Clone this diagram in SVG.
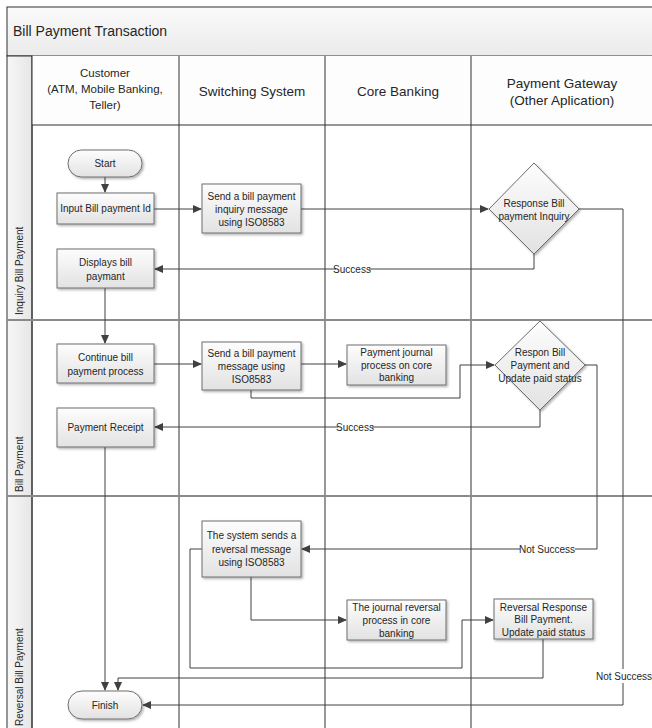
<svg xmlns="http://www.w3.org/2000/svg" width="652" height="728" viewBox="0 0 652 728">
<style>
text{font-family:"Liberation Sans",Arial,sans-serif;fill:#262626}
.box{fill:url(#g);stroke:#6e6e6e;stroke-width:1;filter:url(#sh)}
.t{font-size:10px;text-anchor:middle}
.hd{font-size:13.5px;text-anchor:middle}
.hs{font-size:11.5px;text-anchor:middle}
.ln{font-size:10px}
.col{stroke:#303030;stroke-width:1;fill:none}
.lane{stroke:#8a8a8a;stroke-width:2;fill:none}
.c{stroke:#404040;stroke-width:1;fill:none}
.ca{stroke:#404040;stroke-width:1;fill:none;marker-end:url(#ar)}
.lbl{fill:#fff}
</style>
<defs>
<linearGradient id="g" x1="0" y1="0" x2="0" y2="1"><stop offset="0" stop-color="#fdfdfd"/><stop offset="1" stop-color="#e2e2e2"/></linearGradient>
<linearGradient id="hg" x1="0" y1="0" x2="0" y2="1"><stop offset="0" stop-color="#fafafa"/><stop offset="1" stop-color="#ebebeb"/></linearGradient>
<linearGradient id="sg" x1="0" y1="0" x2="1" y2="0"><stop offset="0" stop-color="#f7f7f7"/><stop offset="1" stop-color="#e6e6e6"/></linearGradient>
<filter id="sh" x="-10%" y="-10%" width="130%" height="140%"><feDropShadow dx="1.5" dy="1.5" stdDeviation="0.8" flood-color="#000" flood-opacity="0.3"/></filter>
<marker id="ar" markerWidth="9" markerHeight="8" refX="8" refY="4" orient="auto" markerUnits="userSpaceOnUse"><path d="M0,0 L9,4 L0,8 Z" fill="#404040"/></marker>
</defs>

<g id="frame">
<rect x="7" y="7" width="660" height="49" fill="url(#hg)" stroke="#303030" stroke-width="1"/>
<text x="13" y="36" style="font-size:14px">Bill Payment Transaction</text>
<rect x="7" y="56" width="25" height="680" fill="url(#sg)" stroke="#303030" stroke-width="1"/>
<rect x="32" y="56" width="630" height="69" fill="#fdfdfd" stroke="none"/>
<line class="col" x1="32" y1="56" x2="32" y2="728"/>
<line class="col" x1="179" y1="56" x2="179" y2="728"/>
<line class="col" x1="325" y1="56" x2="325" y2="728"/>
<line class="col" x1="471" y1="56" x2="471" y2="728"/>
<line class="col" x1="32" y1="125" x2="652" y2="125"/>
<line class="lane" x1="7" y1="320" x2="652" y2="320"/>
<line class="lane" x1="7" y1="496" x2="652" y2="496"/>
<text class="hs" x="105" y="77">Customer</text>
<text class="hs" x="105" y="93">(ATM, Mobile Banking,</text>
<text class="hs" x="105" y="109">Teller)</text>
<text class="hd" x="252" y="96">Switching System</text>
<text class="hd" x="398" y="96">Core Banking</text>
<text class="hd" x="562" y="88">Payment Gateway</text>
<text class="hd" x="562" y="105">(Other Aplication)</text>
<text class="ln" transform="translate(23,315) rotate(-90)">Inquiry Bill Payment</text>
<text class="ln" transform="translate(23,492) rotate(-90)">Bill Payment</text>
<text class="ln" transform="translate(23,726) rotate(-90)">Reversal Bill Payment</text>
</g>

<g id="connectors">
<path class="ca" d="M105,177 V192"/>
<path class="ca" d="M154,209 H201"/>
<path class="ca" d="M301,209 H488"/>
<path class="ca" d="M534,254 V269 H155"/>
<path class="ca" d="M579,209 H623 V705 H143"/>
<path class="ca" d="M105,288 V343"/>
<path class="ca" d="M154,364 H201"/>
<path class="ca" d="M301,364 H346"/>
<path class="ca" d="M251,390 V398 H460 V365 H494"/>
<path class="ca" d="M540,410 V427 H155"/>
<path class="ca" d="M585,365 H597 V549 H302"/>
<path class="ca" d="M105,447 V690"/>
<path class="ca" d="M251,577 V620 H346"/>
<path class="ca" d="M202,549 H190 V668 H462 V620 H493"/>
<path class="ca" d="M543,639 V678 H118 V690"/>
<rect class="lbl" x="336" y="263" width="33" height="12"/>
<text class="t" x="352" y="273">Success</text>
<rect class="lbl" x="338" y="421" width="34" height="12"/>
<text class="t" x="355" y="431">Success</text>
<rect class="lbl" x="520" y="543" width="55" height="12"/>
<text class="t" x="547" y="553">Not Success</text>
<rect class="lbl" x="598" y="669" width="54" height="14"/>
<text class="t" x="624" y="680">Not Success</text>
</g>

<g id="start">
<rect class="box" x="68" y="150" width="74" height="27" rx="13.5"/>
<text class="t" x="105" y="167">Start</text>
</g>
<g id="input-id">
<rect class="box" x="57" y="193" width="97" height="31"/>
<text class="t" x="105.5" y="212">Input Bill payment Id</text>
</g>
<g id="send-inquiry">
<rect class="box" x="202" y="184" width="99" height="49"/>
<text class="t" x="251.5" y="199.5">Send a bill payment</text>
<text class="t" x="251.5" y="212.5">inquiry message</text>
<text class="t" x="251.5" y="225.5">using ISO8583</text>
</g>
<g id="response-inquiry">
<path class="box" d="M534,163 L579,209 L534,254 L489,209 Z"/>
<text class="t" x="534" y="206.5">Response Bill</text>
<text class="t" x="534" y="219.5">payment  Inquiry</text>
</g>
<g id="displays">
<rect class="box" x="57" y="249" width="97" height="39"/>
<text class="t" x="105.5" y="265.5">Displays bill</text>
<text class="t" x="105.5" y="279.5">paymant</text>
</g>
<g id="continue">
<rect class="box" x="57" y="344" width="97" height="39"/>
<text class="t" x="105.5" y="360.5">Continue bill</text>
<text class="t" x="105.5" y="374.5">payment process</text>
</g>
<g id="send-payment">
<rect class="box" x="202" y="342" width="99" height="48"/>
<text class="t" x="251.5" y="356.5">Send a bill payment</text>
<text class="t" x="251.5" y="369.5">message using</text>
<text class="t" x="251.5" y="383">ISO8583</text>
</g>
<g id="payment-journal">
<rect class="box" x="347" y="345" width="99" height="40"/>
<text class="t" x="396.5" y="355.5">Payment journal</text>
<text class="t" x="396.5" y="368.5">process on core</text>
<text class="t" x="396.5" y="381">banking</text>
</g>
<g id="respon-payment">
<path class="box" d="M540,321 L585,365 L540,410 L495,365 Z"/>
<text class="t" x="540" y="355.5">Respon Bill</text>
<text class="t" x="540" y="368.5">Payment and</text>
<text class="t" x="540" y="381.5">Update paid status</text>
</g>
<g id="receipt">
<rect class="box" x="57" y="408" width="97" height="39"/>
<text class="t" x="105.5" y="430.5">Payment Receipt</text>
</g>
<g id="reversal-send">
<rect class="box" x="202" y="521" width="99" height="56"/>
<text class="t" x="251.5" y="538.5">The system sends a</text>
<text class="t" x="251.5" y="552.5">reversal message</text>
<text class="t" x="251.5" y="565.5">using ISO8583</text>
</g>
<g id="journal-reversal">
<rect class="box" x="347" y="600" width="99" height="40"/>
<text class="t" x="396.5" y="610.5">The journal reversal</text>
<text class="t" x="396.5" y="623.5">process in core</text>
<text class="t" x="396.5" y="636.5">banking</text>
</g>
<g id="reversal-response">
<rect class="box" x="494" y="599" width="99" height="40"/>
<text class="t" x="543.5" y="610.5">Reversal Response</text>
<text class="t" x="543.5" y="622.5">Bill Payment.</text>
<text class="t" x="543.5" y="635.5">Update paid status</text>
</g>
<g id="finish">
<rect class="box" x="68" y="691" width="74" height="28" rx="14"/>
<text class="t" x="105" y="708.5">Finish</text>
</g>
</svg>
